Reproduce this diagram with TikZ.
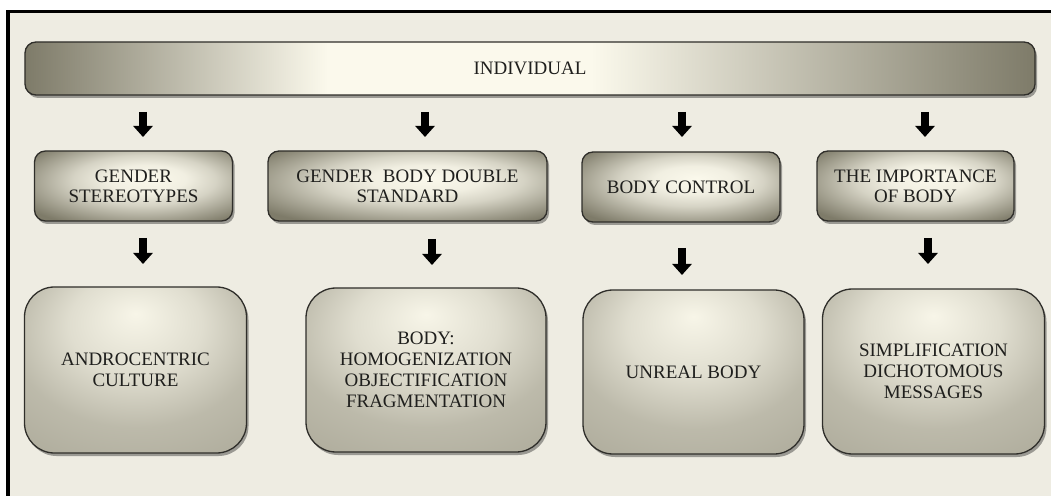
\documentclass[tikz,border=0pt]{standalone}
\usepackage{fontspec}
\setmainfont{Liberation Serif}
\usetikzlibrary{arrows.meta,shadows}
\definecolor{bg}{HTML}{EEECE2}
\definecolor{dk}{HTML}{7E7B69}
\definecolor{lt}{HTML}{FBF9EC}
\definecolor{edgec}{HTML}{2F2E2A}
\definecolor{txt}{HTML}{1F1F1D}
\pgfdeclarehorizontalshading{barshade}{100bp}{color(0bp)=(dk); color(25bp)=(dk); color(40bp)=(lt); color(53bp)=(lt); color(75bp)=(dk); color(100bp)=(dk)}
\pgfdeclareradialshading{midshade}{\pgfpoint{4bp}{6bp}}{color(0bp)=(lt); color(10bp)=(lt!92!dk); color(18bp)=(lt!70!dk); color(26bp)=(lt!35!dk); color(34bp)=(dk); color(60bp)=(dk)}
\pgfdeclareradialshading{bigshade}{\pgfpoint{0bp}{17bp}}{color(0bp)=(lt!97!dk); color(15bp)=(lt!78!dk); color(28bp)=(lt!50!dk); color(42bp)=(lt!38!dk); color(55bp)=(lt!25!dk); color(75bp)=(dk)}
\tikzset{
  boxbase/.style={draw=edgec, line width=1.3bp, inner sep=0pt, align=center, text=txt,
    font=\fontsize{19bp}{20bp}\selectfont,
    drop shadow={shadow xshift=2bp, shadow yshift=-3bp, opacity=0.35, fill=black}},
  barbox/.style={boxbase, rounded corners=11bp, shading=barshade},
  midbox/.style={boxbase, rounded corners=11bp, shading=midshade},
  bigbox/.style={boxbase, rounded corners=30bp, shading=bigshade,
    font=\fontsize{19bp}{21bp}\selectfont},
  blk/.style={line width=8bp, black, -{Triangle[width=19bp,length=11bp]}}
}
\begin{document}
\begin{tikzpicture}[x=1bp,y=-1bp]
\useasboundingbox (0,0) rectangle (1051,496);
\fill[white] (0,0) rectangle (1051,496);
\fill[bg] (8,11.5) rectangle (1051,496);
\draw[line width=3.5bp, line join=miter] (8,497) -- (8,11.5) -- (1052,11.5);

\node[barbox, minimum width=1010bp, minimum height=53bp] (ind) at (530,68.5) {INDIVIDUAL};

\node[midbox, minimum width=198bp, minimum height=70bp] (gs) at (133.5,186) {GENDER\\STEREOTYPES};
\node[midbox, minimum width=279bp, minimum height=70bp] (gbds) at (407.5,186) {GENDER\ \ BODY DOUBLE\\STANDARD};
\node[midbox, minimum width=198bp, minimum height=70bp] (bc) at (681,187) {BODY CONTROL};
\node[midbox, minimum width=197bp, minimum height=70bp] (imp) at (915.5,186) {THE IMPORTANCE\\OF BODY};

\node[bigbox, minimum width=222bp, minimum height=166bp] (ac) at (135.5,370) {ANDROCENTRIC\\CULTURE};
\node[bigbox, minimum width=240bp, minimum height=164bp] (body) at (426,370) {BODY:\\HOMOGENIZATION\\OBJECTIFICATION\\FRAGMENTATION};
\node[bigbox, minimum width=221bp, minimum height=164bp] (ub) at (693.5,372) {UNREAL BODY};
\node[bigbox, minimum width=222bp, minimum height=165bp] (simp) at (933.5,371.5) {SIMPLIFICATION\\DICHOTOMOUS\\MESSAGES};

\coordinate (a1s) at (143,112); \coordinate (a1e) at (143,137);
\coordinate (a2s) at (425,112); \coordinate (a2e) at (425,137);
\coordinate (a3s) at (682,112); \coordinate (a3e) at (682,137);
\coordinate (a4s) at (925,112); \coordinate (a4e) at (925,137);
\coordinate (b1s) at (143,238); \coordinate (b1e) at (143,264);
\coordinate (b2s) at (432,239); \coordinate (b2e) at (432,265);
\coordinate (b3s) at (682,248); \coordinate (b3e) at (682,275);
\coordinate (b4s) at (928,238); \coordinate (b4e) at (928,264);
\foreach \p in {a1,a2,a3,a4,b1,b2,b3,b4} \draw[blk] (\p s) -- (\p e);
\end{tikzpicture}
\end{document}
